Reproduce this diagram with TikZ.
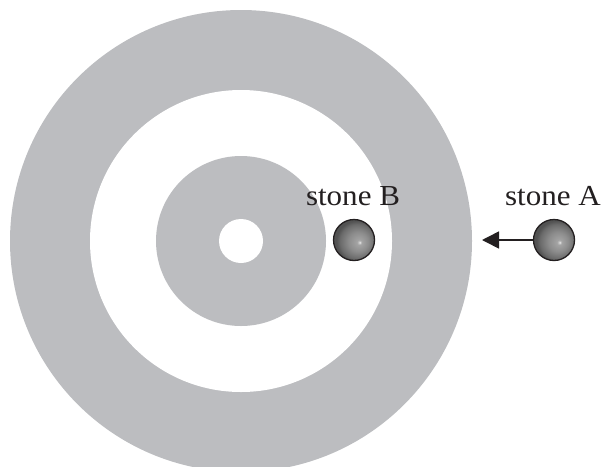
\documentclass[tikz,border=0pt]{standalone}
\usepackage{fontspec}
\setmainfont{Liberation Serif}
\usetikzlibrary{arrows.meta}
\definecolor{ringgray}{RGB}{188,189,192}
\definecolor{inkblack}{RGB}{35,31,32}
\pgfdeclareradialshading{stoneshade}{\pgfpoint{7bp}{-3bp}}{%
  color(0bp)=(white);
  color(0.8bp)=(black!20);
  color(3bp)=(black!36);
  color(12bp)=(black!45);
  color(21bp)=(black!58);
  color(25bp)=(black!68);
  color(50bp)=(black!68)}
\tikzset{
  stone/.style={circle, minimum size=41pt, inner sep=0pt, draw=inkblack, line width=1.3pt, shading=stoneshade},
  label text/.style={font=\fontsize{29pt}{32pt}\selectfont, anchor=base, inner sep=0pt, text=inkblack},
  ring/.style={fill=ringgray, draw=none},
  hole/.style={fill=white, draw=none}
}
\begin{document}
\begin{tikzpicture}[x=1pt, y=-1pt]
\useasboundingbox (0,0) rectangle (601,466);
\clip (0,0) rectangle (601,466);
\fill[ring] (241,241) circle[radius=231pt];
\fill[hole] (241,241) circle[radius=151pt];
\fill[ring] (241,241) circle[radius=85pt];
\fill[hole] (241,241) circle[radius=22pt];
\node[stone] (B) at (354,240) {};
\node[stone] (A) at (554,240) {};
\node[label text] (lB) at (353,205) {\scalebox{1.07}[1]{stone B}};
\node[label text] (lA) at (553,205) {\scalebox{1.07}[1]{stone A}};
\coordinate (tip) at (482,240);
\draw[draw=inkblack, fill=inkblack, line width=1.6pt, -{Triangle[length=17pt, width=17pt]}] (A.west) -- (tip);
\end{tikzpicture}
\end{document}
